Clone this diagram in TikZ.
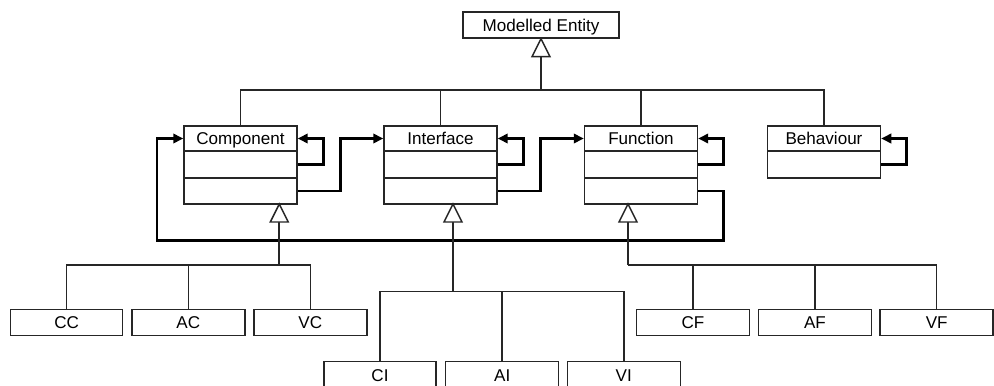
\documentclass[tikz,border=0pt]{standalone}
\usepackage{fontspec}
\setmainfont{Liberation Sans}
\usetikzlibrary{arrows.meta}
\newlength\pxu
\setlength\pxu{0.75pt}
\definecolor{linec}{RGB}{38,38,38}
\begin{document}
\begin{tikzpicture}[x=0.75pt,y=-0.75pt,
  box/.style={draw=linec, line width=1.1pt, inner sep=0pt, minimum width=113\pxu,
    font=\fontsize{12.8}{14}\selectfont, text=black, text height=9.2pt, text depth=0pt},
  cbox/.style={box, minimum height=26\pxu},
  thinl/.style={draw=linec, line width=1.1pt},
  stem/.style={draw=linec, line width=1.7pt},
  tri/.style={draw=linec, line width=1.1pt, fill=white, line join=miter},
  assoc/.style={draw=black, line width=2.1pt, line join=miter,
    -{Triangle[length=7.5pt,width=7pt]}}]
\useasboundingbox (0,0) rectangle (994,385);
\fill[white] (0,0) rectangle (994,385);
\clip (0,0) rectangle (994,385);

% top
\node[box, minimum width=156\pxu, minimum height=26\pxu] (me) at (541,25) {Modelled Entity};

% Component
\node[box, minimum height=25\pxu] (cT) at (240.5,138.5) {Component};
\node[box, minimum height=27\pxu] (cA) at (240.5,164.5) {};
\node[box, minimum height=26\pxu] (cB) at (240.5,191) {};
% Interface
\node[box, minimum height=25\pxu] (iT) at (440.5,138.5) {Interface};
\node[box, minimum height=27\pxu] (iA) at (440.5,164.5) {};
\node[box, minimum height=26\pxu] (iB) at (440.5,191) {};
% Function
\node[box, minimum height=25\pxu] (fT) at (641,138.5) {Function};
\node[box, minimum height=27\pxu] (fA) at (641,164.5) {};
\node[box, minimum height=26\pxu] (fB) at (641,191) {};
% Behaviour
\node[box, minimum height=25\pxu] (bT) at (824,138.5) {Behaviour};
\node[box, minimum height=27\pxu] (bA) at (824,164.5) {};

% generalisation to Modelled Entity
\coordinate (hub) at (541,90);
\draw[thinl] (cT.north) |- (hub) -| (bT.north);
\draw[thinl] (iT.north) -- (iT.north |- hub);
\draw[thinl] (fT.north) -- (fT.north |- hub);
\coordinate (meb) at (541,56);
\draw[stem] (meb) -- (hub);
\draw[tri] (me.south) -- ++(-9,18) -- ++(18,0) -- cycle;

% associations
\draw[assoc] (cA.east) -- ++(26,0) |- (cT.east);
\draw[assoc] (cB.east) -- ++(43,0) |- (iT.west);
\draw[assoc] (iA.east) -- ++(26,0) |- (iT.east);
\draw[assoc] (iB.east) -- ++(43,0) |- (fT.west);
\draw[assoc] (fA.east) -- ++(25,0) |- (fT.east);
\draw[assoc] (bA.east) -- ++(25,0) |- (bT.east);
\coordinate (ret) at (157,240.7);
\draw[assoc] (fB.east) -- ++(25,0) |- (ret) |- (cT.west);

% children rows
\node[cbox, minimum width=112\pxu] (cc) at (66.7,322.5) {CC};
\node[cbox] (ac) at (188.3,322.5) {AC};
\node[cbox] (vc) at (310.3,322.5) {VC};
\node[box, minimum width=112\pxu, minimum height=27\pxu] (ci) at (380,375) {CI};
\node[box, minimum height=27\pxu] (ai) at (502.2,375) {AI};
\node[box, minimum height=27\pxu] (vi) at (623.8,375) {VI};
\node[cbox] (cf) at (693,322.5) {CF};
\node[cbox] (af) at (815,322.5) {AF};
\node[cbox] (vf) at (936.7,322.5) {VF};

% Component subtree
\coordinate (cbase) at (279.3,222);
\coordinate (cj) at (279.3,265);
\draw[stem] (cbase) -- (cj);
\draw[thinl] (cc.north) |- (cj) -| (vc.north);
\draw[thinl] (ac.north) -- (ac.north |- cj);
\draw[tri] (279.3,204) -- ++(-9,18) -- ++(18,0) -- cycle;

% Interface subtree
\coordinate (ibase) at (453,222);
\coordinate (ij) at (453,291.7);
\draw[stem] (ibase) -- (ij);
\draw[thinl] (ci.north) |- (ij) -| (vi.north);
\draw[thinl] (ai.north) -- (ai.north |- ij);
\draw[tri] (453,204) -- ++(-9,18) -- ++(18,0) -- cycle;

% Function subtree
\coordinate (fbase) at (628,222);
\coordinate (fj) at (628,265);
\draw[stem] (fbase) -- (fj);
\draw[thinl] (fj) -| (vf.north);
\draw[thinl] (cf.north) -- (cf.north |- fj);
\draw[thinl] (af.north) -- (af.north |- fj);
\draw[tri] (628,204) -- ++(-9,18) -- ++(18,0) -- cycle;
\end{tikzpicture}
\end{document}
